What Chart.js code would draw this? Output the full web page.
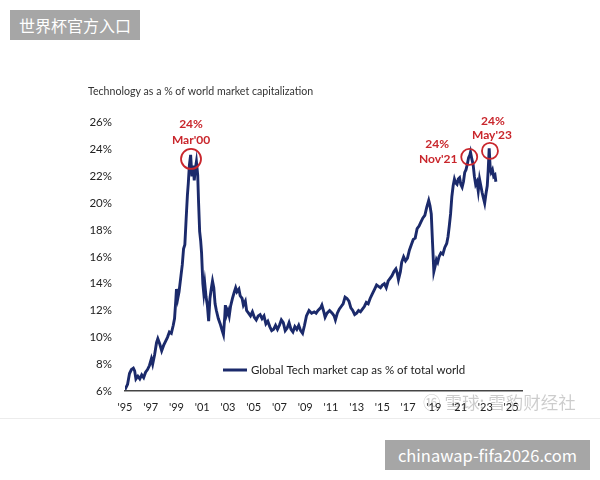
<!DOCTYPE html>
<html>
<head>
<meta charset="utf-8">
<script src="https://cdn.jsdelivr.net/npm/chart.js@4.4.1/dist/chart.umd.min.js"></script>
<style>
    body { margin: 0; background: #fff; }
    #wrap { position: relative; width: 600px; height: 480px; overflow: hidden; }
    canvas { position: absolute; left: 0; top: 0; }
    .tag { position: absolute; background: #a6a6a6; color: #fff; font-family: "Noto Sans CJK SC", sans-serif; font-size: 16px; text-align: center; }
    .rule { position: absolute; left: 0; top: 418px; width: 600px; height: 1px; background: #ececec; }
    .mark { position: absolute; left: 423px; top: 389px; color: rgba(0, 0, 0, 0.2); font-family: "Noto Sans CJK SC", sans-serif; font-size: 17.5px; white-space: nowrap; }
</style>
</head>
<body>
<div id="wrap">
    <canvas id="lineChart" width="600" height="480"></canvas>
    <div class="rule"></div>
    <div class="mark">⑯ 雪球: 雪豹财经社</div>
    <div class="tag" style="left:10px;top:10px;width:130px;height:30px;line-height:30px;">世界杯官方入口</div>
    <div class="tag" style="left:385px;top:440px;width:205px;height:30px;line-height:30px;font-size:16.5px;">chinawap-fifa2026.com</div>
</div>
<script>
// data (decimal years, % of world market cap)
var dates = [
    1995.00, 1995.2, 1995.35, 1995.5, 1995.65, 1995.75, 1995.85, 1996.0, 1996.15, 1996.3, 1996.45, 1996.6, 1996.75, 1996.9,
    1997.05, 1997.15, 1997.3, 1997.45, 1997.55, 1997.7, 1997.85, 1998.0, 1998.15, 1998.3, 1998.45, 1998.6, 1998.75, 1998.85, 1998.95,
    1999.0, 1999.1, 1999.2, 1999.35, 1999.45, 1999.55, 1999.65, 1999.75, 1999.85, 1999.92,
    2000.0, 2000.1, 2000.2, 2000.3, 2000.38, 2000.47, 2000.55, 2000.65, 2000.72, 2000.8, 2000.88, 2000.95,
    2001.05, 2001.12, 2001.2, 2001.3, 2001.4, 2001.5, 2001.6, 2001.7, 2001.8, 2001.9,
    2002.0, 2002.1, 2002.25, 2002.4, 2002.55, 2002.65, 2002.75, 2002.8, 2002.9,
    2003.0, 2003.1, 2003.2, 2003.35, 2003.5, 2003.6, 2003.7, 2003.85, 2003.95,
    2004.1, 2004.2, 2004.35, 2004.45, 2004.6, 2004.75, 2004.9,
    2005.05, 2005.2, 2005.35, 2005.5, 2005.65, 2005.8, 2005.95,
    2006.1, 2006.25, 2006.4, 2006.55, 2006.7, 2006.85,
    2007.0, 2007.15, 2007.3, 2007.45, 2007.6, 2007.75, 2007.9,
    2008.05, 2008.2, 2008.35, 2008.5, 2008.65, 2008.8, 2008.95,
    2009.1, 2009.3, 2009.5, 2009.7, 2009.85,
    2010.0, 2010.2, 2010.3, 2010.45, 2010.55, 2010.7, 2010.9,
    2011.1, 2011.25, 2011.35, 2011.5, 2011.65, 2011.8, 2011.95,
    2012.1, 2012.25, 2012.4, 2012.55, 2012.7, 2012.85,
    2013.0, 2013.15, 2013.3, 2013.45, 2013.6, 2013.75, 2013.9,
    2014.05, 2014.2, 2014.4, 2014.55, 2014.7, 2014.85,
    2015.0, 2015.15, 2015.3, 2015.45, 2015.6, 2015.75, 2015.9,
    2016.05, 2016.15, 2016.25, 2016.4, 2016.5, 2016.65, 2016.8, 2016.95,
    2017.1, 2017.25, 2017.4, 2017.55, 2017.7, 2017.85,
    2018.0, 2018.15, 2018.3, 2018.45, 2018.6, 2018.7, 2018.8, 2018.9,
    2019.0, 2019.1, 2019.2, 2019.3, 2019.4, 2019.55, 2019.7, 2019.85,
    2020.0, 2020.1, 2020.2, 2020.3, 2020.4, 2020.5, 2020.6, 2020.7, 2020.8, 2020.9,
    2021.0, 2021.1, 2021.2, 2021.3, 2021.4, 2021.5, 2021.6, 2021.7, 2021.8, 2021.85, 2021.95,
    2022.05, 2022.15, 2022.25, 2022.35, 2022.45, 2022.55, 2022.65, 2022.75, 2022.85, 2022.95,
    2023.05, 2023.15, 2023.22, 2023.3, 2023.38, 2023.45, 2023.55, 2023.65, 2023.75, 2023.82
];
var techShare = [
    6.1, 6.5, 7.3, 7.6, 7.7, 7.5, 6.9, 7.1, 6.9, 7.2, 7.0, 7.4, 7.6, 7.9,
    8.4, 8.0, 8.7, 9.6, 9.9, 9.5, 9.0, 9.4, 9.7, 10.0, 10.4, 10.3, 10.9, 11.4, 12.8,
    13.6, 12.9, 13.4, 14.6, 15.4, 16.6, 16.9, 18.8, 20.6, 21.5,
    22.8, 23.6, 22.0, 22.8, 21.7, 22.6, 23.1, 22.1, 20.0, 17.9, 17.2, 16.3,
    14.0, 13.3, 14.0, 13.0, 12.4, 11.2, 12.9, 13.6, 14.2, 13.7,
    12.5, 12.0, 11.4, 11.0, 10.5, 10.2, 11.5, 12.4, 11.7,
    12.0, 11.6, 12.3, 12.9, 13.4, 13.7, 13.4, 13.6, 13.1,
    12.9, 12.4, 12.7, 12.0, 11.8, 11.6, 11.9,
    11.5, 11.3, 11.6, 11.7, 11.4, 11.6, 11.0,
    11.2, 10.8, 10.5, 10.6, 10.9, 10.6,
    10.9, 11.3, 11.1, 10.5, 10.7, 11.1, 10.6,
    10.4, 10.8, 10.6, 10.9, 10.5, 10.3, 10.9,
    11.6, 12.0, 11.8, 11.9, 11.8,
    12.0, 12.2, 12.4, 11.9, 11.5, 11.8, 12.0,
    11.8, 11.6, 11.3, 11.8, 12.1, 12.3, 12.5,
    13.0, 12.9, 12.7, 12.2, 12.0, 11.7,
    11.8, 12.0, 11.9, 12.1, 12.3, 12.6, 12.5,
    12.9, 13.2, 13.6, 13.9, 13.8, 13.7,
    13.9, 14.0, 13.7, 14.2, 14.4, 14.6, 14.9,
    15.1, 14.8, 14.3, 14.9, 15.6, 16.0, 15.7, 15.9,
    16.5, 16.9, 17.3, 17.4, 18.1, 18.3,
    18.6, 18.9, 19.1, 19.7, 20.2, 19.8, 19.2, 17.0,
    14.9, 15.3, 15.8, 15.6, 16.0, 16.3, 16.2, 16.7,
    17.0, 17.5, 18.3, 19.2, 20.5, 21.3, 21.8, 21.5, 21.4, 21.8,
    21.9, 21.4, 21.2, 21.6, 22.3, 22.5, 22.9, 23.4, 23.6, 23.8, 23.3,
    22.9, 22.0, 21.4, 21.6, 20.9, 21.8, 21.3, 20.8, 20.4, 20.0,
    20.7, 21.3, 22.4, 24.1, 22.6, 22.3, 22.5, 22.0, 22.1, 21.6
];
var xTicks = [1995, 1997, 1999, 2001, 2003, 2005, 2007, 2009, 2011, 2013, 2015, 2017, 2019, 2021, 2023, 2025];
var yTicks = [6, 8, 10, 12, 14, 16, 18, 20, 22, 24, 26];

// circled peaks
var peakDates = [2000.13, 2021.75, 2023.36];
var peakValues = [23.3, 23.45, 23.9];
var peakNames = ["Mar'00", "Nov'21", "May'23"];
var peakText = ["24%", "24%", "24%"];

var lineColor = '#1b2a6b';
var red = '#c9262c';

Chart.defaults.font.family = 'Lato';
Chart.defaults.color = '#222';

// legend + red circles, drawn on top
var overlay = {
    id: 'overlay',
    afterDraw: function (chart) {
        var ctx = chart.ctx;
        var a = chart.chartArea;
        var xs = chart.scales.x, ys = chart.scales.y;
        ctx.save();

        var ly = a.bottom - 21;
        ctx.strokeStyle = lineColor;
        ctx.lineWidth = 3;
        ctx.beginPath();
        ctx.moveTo(a.left + 98, ly);
        ctx.lineTo(a.left + 122, ly);
        ctx.stroke();
        ctx.fillStyle = '#222';
        ctx.font = '11.5px Lato';
        ctx.textBaseline = 'middle';
        ctx.textAlign = 'left';
        ctx.fillText(chart.data.datasets[0].label, a.left + 126, ly);

        var radius = [10, 8, 8];
        var pctOff = [[0, -35], [-32, -13], [3, -30]];
        var nameOff = [[0, -19], [-31, 2], [2, -16]];
        ctx.strokeStyle = red;
        ctx.fillStyle = red;
        ctx.lineWidth = 1.8;
        ctx.font = 'bold 12px Lato';
        ctx.textAlign = 'center';
        for (var i = 0; i < peakDates.length; i++) {
            var cx = xs.getPixelForValue(peakDates[i]);
            var cy = ys.getPixelForValue(peakValues[i]);
            ctx.beginPath();
            ctx.arc(cx, cy, radius[i], 0, Math.PI * 2);
            ctx.stroke();
            ctx.fillText(peakText[i], cx + pctOff[i][0], cy + pctOff[i][1]);
            ctx.fillText(peakNames[i], cx + nameOff[i][0], cy + nameOff[i][1]);
        }
        ctx.restore();
    }
};

var ctxL = document.getElementById('lineChart').getContext('2d');
var myLineChart = new Chart(ctxL, {
    type: 'line',
    data: {
        datasets: [{
            label: 'Global Tech market cap as % of total world',
            data: dates.map(function (d, i) { return { x: d, y: techShare[i] }; }),
            borderColor: lineColor,
            borderWidth: 2.9,
            pointRadius: 0,
            fill: false,
            tension: 0
        }]
    },
    options: {
        responsive: false,
        animation: false,
        layout: { padding: { left: 88, right: 78, top: 85, bottom: 0 } },
        plugins: {
            legend: { display: false },
            tooltip: { enabled: false },
            title: {
                display: true,
                text: 'Technology as a % of world market capitalization',
                align: 'start',
                color: '#333',
                font: { size: 10.6, weight: 'normal' },
                padding: { top: 0, bottom: 25 }
            }
        },
        scales: {
            x: {
                type: 'linear',
                min: 1995,
                max: 2025.85,
                grid: { display: false, drawTicks: false },
                border: { display: true, color: '#444', width: 1.5 },
                afterBuildTicks: function (s) { s.ticks = xTicks.map(function (v) { return { value: v }; }); },
                afterFit: function (s) { s.height = 89; },
                ticks: {
                    padding: 10,
                    maxRotation: 0,
                    autoSkip: false,
                    font: { size: 11 },
                    callback: function (v) { return "'" + String(v).slice(2); }
                }
            },
            y: {
                min: 6,
                max: 26,
                grid: { display: false, drawTicks: false },
                border: { display: false },
                afterBuildTicks: function (s) { s.ticks = yTicks.map(function (v) { return { value: v }; }); },
                afterFit: function (s) { s.width = 37; },
                ticks: {
                    padding: 13,
                    font: { size: 11.5 },
                    callback: function (v) { return v + '%'; }
                }
            }
        }
    },
    plugins: [overlay]
});
</script>
</body>
</html>
